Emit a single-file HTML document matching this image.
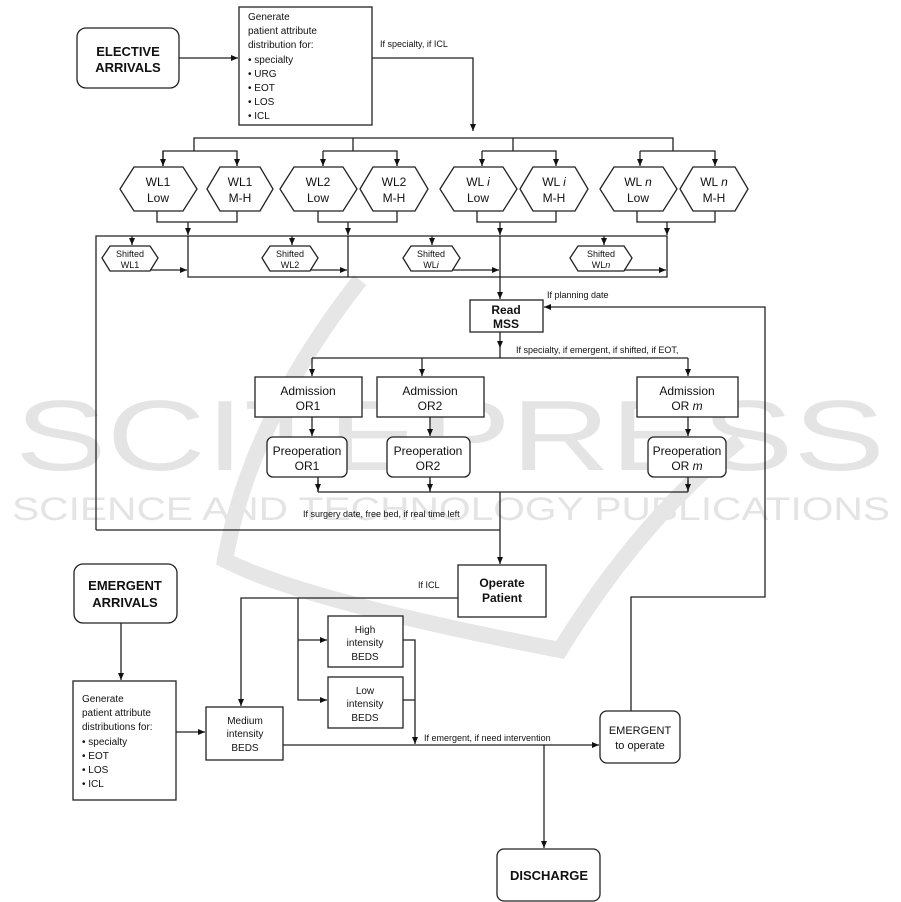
<!DOCTYPE html>
<html><head><meta charset="utf-8"><style>
html,body{margin:0;padding:0;background:#fff;}
svg{display:block;}
text{font-family:"Liberation Sans",Arial,sans-serif;fill:#111;}
.b{font-weight:bold;}
</style></head><body>
<svg width="901" height="902" viewBox="0 0 901 902" xmlns="http://www.w3.org/2000/svg">
<defs>
<marker id="a" markerWidth="8" markerHeight="8" refX="7" refY="4" orient="auto" markerUnits="userSpaceOnUse">
<path d="M0,1 L7,4 L0,7 z" fill="#111"/>
</marker>
</defs>
<g>
<text x="15" y="470" font-size="100" style="fill:#e4e4e4" textLength="870" lengthAdjust="spacingAndGlyphs">SCITEPRESS</text>
<text x="12" y="520" font-size="32" style="fill:#e4e4e4" textLength="878" lengthAdjust="spacingAndGlyphs">SCIENCE AND TECHNOLOGY PUBLICATIONS</text>
<path d="M360,280 Q250,420 225,560 Q300,600 560,650 Q640,520 740,440" fill="none" stroke="#e6e6e6" stroke-width="16"/>
</g>
<g fill="#fff" stroke="#222" stroke-width="1.3">
<rect x="77" y="28" width="102" height="60" rx="9"/>
<rect x="239" y="7" width="133" height="118"/>
<polygon points="120,189 134,167 183,167 197,189 183,211 134,211"/>
<polygon points="207,189 220,167 260,167 273,189 260,211 220,211"/>
<polygon points="280,189 294,167 343,167 357,189 343,211 294,211"/>
<polygon points="360,189 373,167 415,167 428,189 415,211 373,211"/>
<polygon points="440,189 454,167 503,167 517,189 503,211 454,211"/>
<polygon points="520,189 533,167 575,167 588,189 575,211 533,211"/>
<polygon points="600,189 614,167 663,167 677,189 663,211 614,211"/>
<polygon points="680,189 693,167 735,167 748,189 735,211 693,211"/>
<polygon points="102,258 110,246 150,246 158,258 150,271 110,271"/>
<polygon points="262,258 270,246 310,246 318,258 310,271 270,271"/>
<polygon points="403,258 411,246 452,246 460,258 452,271 411,271"/>
<polygon points="570,258 578,246 624,246 632,258 624,271 578,271"/>
<rect x="470" y="300" width="73" height="32"/>
<rect x="255" y="377" width="107" height="40"/>
<rect x="377" y="377" width="107" height="40"/>
<rect x="637" y="377" width="101" height="40"/>
<rect x="267" y="437" width="80" height="40" rx="6"/>
<rect x="387" y="437" width="83" height="40" rx="6"/>
<rect x="648" y="437" width="78" height="40" rx="6"/>
<rect x="458" y="565" width="88" height="52"/>
<rect x="74" y="564" width="103" height="59" rx="9"/>
<rect x="73" y="681" width="103" height="119"/>
<rect x="328" y="616" width="75" height="51"/>
<rect x="328" y="677" width="75" height="51"/>
<rect x="206" y="707" width="77" height="53"/>
<rect x="600" y="711" width="80" height="52" rx="7"/>
<rect x="497" y="849" width="103" height="52" rx="7"/>
</g>
<g fill="none" stroke="#222" stroke-width="1.3">
<path d="M179,58 H238" marker-end="url(#a)"/>
<path d="M372,58 H473 V131" marker-end="url(#a)"/>
<path d="M194,151 V138 H673 V151 M353,138 V151 M513,138 V151"/>
<path d="M163,166 V151 H237 V166" marker-end="url(#a)"/><path d="M163,151 V166" marker-end="url(#a)"/>
<path d="M323,151 H397 V166" marker-end="url(#a)"/><path d="M323,151 V166" marker-end="url(#a)"/>
<path d="M482,151 H556 V166" marker-end="url(#a)"/><path d="M482,151 V166" marker-end="url(#a)"/>
<path d="M640,151 H715 V166" marker-end="url(#a)"/><path d="M640,151 V166" marker-end="url(#a)"/>
<path d="M157,211 V222 H237 V211 M318,211 V222 H397 V211 M477,211 V222 H556 V211 M637,211 V222 H715 V211"/>
<path d="M188,222 V235" marker-end="url(#a)"/><path d="M348,222 V235" marker-end="url(#a)"/>
<path d="M500,222 V235" marker-end="url(#a)"/><path d="M667,222 V235" marker-end="url(#a)"/>
<path d="M96,530 V236 H667 V277 H188 V236 M348,236 V277"/>
<path d="M132,236 V245" marker-end="url(#a)"/><path d="M292,236 V245" marker-end="url(#a)"/>
<path d="M432,236 V245" marker-end="url(#a)"/><path d="M604,236 V245" marker-end="url(#a)"/>
<path d="M150,270 H187" marker-end="url(#a)"/><path d="M310,270 H347" marker-end="url(#a)"/>
<path d="M452,270 H499" marker-end="url(#a)"/><path d="M624,270 H666" marker-end="url(#a)"/>
<path d="M500,236 V299" marker-end="url(#a)"/>
<path d="M631,711 V597 H765 V307 H544" marker-end="url(#a)"/>
<path d="M500,332 V348" marker-end="url(#a)"/>
<path d="M500,348 V358 M312,358 H688"/>
<path d="M312,358 V376" marker-end="url(#a)"/><path d="M422,358 V376" marker-end="url(#a)"/><path d="M688,358 V376" marker-end="url(#a)"/>
<path d="M312,417 V436" marker-end="url(#a)"/><path d="M430,417 V436" marker-end="url(#a)"/><path d="M688,417 V436" marker-end="url(#a)"/>
<path d="M318,477 V492 M430,477 V492 M688,477 V492 M318,492 H688"/>
<path d="M318,480 V491" marker-end="url(#a)"/><path d="M430,480 V491" marker-end="url(#a)"/><path d="M688,480 V491" marker-end="url(#a)"/>
<path d="M96,530 H500 M500,492 V564" marker-end="url(#a)"/>
<path d="M458,598 H241 V706" marker-end="url(#a)"/>
<path d="M298,598 V700 H327" marker-end="url(#a)"/>
<path d="M298,640 H327" marker-end="url(#a)"/>
<path d="M403,640 H415 V744" marker-end="url(#a)"/><path d="M403,700 H415"/>
<path d="M121,623 V680" marker-end="url(#a)"/>
<path d="M176,732 H205" marker-end="url(#a)"/>
<path d="M283,745 H599" marker-end="url(#a)"/>
<path d="M544,745 V848" marker-end="url(#a)"/>
</g>
<g font-size="10">
<text x="128" y="56" class="b" font-size="13" text-anchor="middle">ELECTIVE</text>
<text x="128" y="72" class="b" font-size="13" text-anchor="middle">ARRIVALS</text>
<text x="248" y="20">Generate</text><text x="248" y="34">patient attribute</text><text x="248" y="48">distribution for:</text>
<text x="248" y="63">• specialty</text><text x="248" y="77">• URG</text><text x="248" y="91">• EOT</text><text x="248" y="105">• LOS</text><text x="248" y="119">• ICL</text>
<text x="380" y="47" font-size="9">If specialty, if ICL</text>
<g font-size="12" text-anchor="middle">
<text x="158" y="186">WL1</text><text x="158" y="202">Low</text>
<text x="240" y="186">WL1</text><text x="240" y="202">M-H</text>
<text x="318" y="186">WL2</text><text x="318" y="202">Low</text>
<text x="394" y="186">WL2</text><text x="394" y="202">M-H</text>
<text x="478" y="186">WL <tspan font-style="italic">i</tspan></text><text x="478" y="202">Low</text>
<text x="554" y="186">WL <tspan font-style="italic">i</tspan></text><text x="554" y="202">M-H</text>
<text x="638" y="186">WL <tspan font-style="italic">n</tspan></text><text x="638" y="202">Low</text>
<text x="714" y="186">WL <tspan font-style="italic">n</tspan></text><text x="714" y="202">M-H</text>
</g>
<g font-size="9" text-anchor="middle">
<text x="130" y="257">Shifted</text><text x="130" y="268">WL1</text>
<text x="290" y="257">Shifted</text><text x="290" y="268">WL2</text>
<text x="431" y="257">Shifted</text><text x="431" y="268">WL<tspan font-style="italic">i</tspan></text>
<text x="601" y="257">Shifted</text><text x="601" y="268">WL<tspan font-style="italic">n</tspan></text>
</g>
<text x="506" y="314" class="b" font-size="12" text-anchor="middle">Read</text>
<text x="506" y="328" class="b" font-size="12" text-anchor="middle">MSS</text>
<text x="547" y="298" font-size="9">If planning date</text>
<text x="516" y="353" font-size="9">If specialty, if emergent, if shifted, if EOT,</text>
<g font-size="12" text-anchor="middle">
<text x="308" y="395">Admission</text><text x="308" y="410">OR1</text>
<text x="430" y="395">Admission</text><text x="430" y="410">OR2</text>
<text x="687" y="395">Admission</text><text x="687" y="410">OR <tspan font-style="italic">m</tspan></text>
<text x="307" y="455">Preoperation</text><text x="307" y="470">OR1</text>
<text x="428" y="455">Preoperation</text><text x="428" y="470">OR2</text>
<text x="687" y="455">Preoperation</text><text x="687" y="470">OR <tspan font-style="italic">m</tspan></text>
</g>
<text x="303" y="517" font-size="9">If surgery date, free bed, if real time left</text>
<text x="502" y="587" class="b" font-size="12" text-anchor="middle">Operate</text>
<text x="502" y="602" class="b" font-size="12" text-anchor="middle">Patient</text>
<text x="418" y="588" font-size="9">If ICL</text>
<text x="125" y="590" class="b" font-size="13" text-anchor="middle">EMERGENT</text>
<text x="125" y="607" class="b" font-size="13" text-anchor="middle">ARRIVALS</text>
<text x="82" y="702">Generate</text><text x="82" y="716">patient attribute</text><text x="82" y="730">distributions for:</text>
<text x="82" y="745">• specialty</text><text x="82" y="759">• EOT</text><text x="82" y="773">• LOS</text><text x="82" y="787">• ICL</text>
<g text-anchor="middle">
<text x="365" y="633">High</text><text x="365" y="646">intensity</text><text x="365" y="660">BEDS</text>
<text x="365" y="694">Low</text><text x="365" y="707">intensity</text><text x="365" y="721">BEDS</text>
<text x="245" y="724">Medium</text><text x="245" y="737">intensity</text><text x="245" y="751">BEDS</text>
<text x="640" y="734" font-size="11">EMERGENT</text><text x="640" y="749" font-size="11">to operate</text>
<text x="549" y="880" class="b" font-size="13">DISCHARGE</text>
</g>
<text x="424" y="741" font-size="9">If emergent, if need intervention</text>
</g>
</svg>
</body></html>
